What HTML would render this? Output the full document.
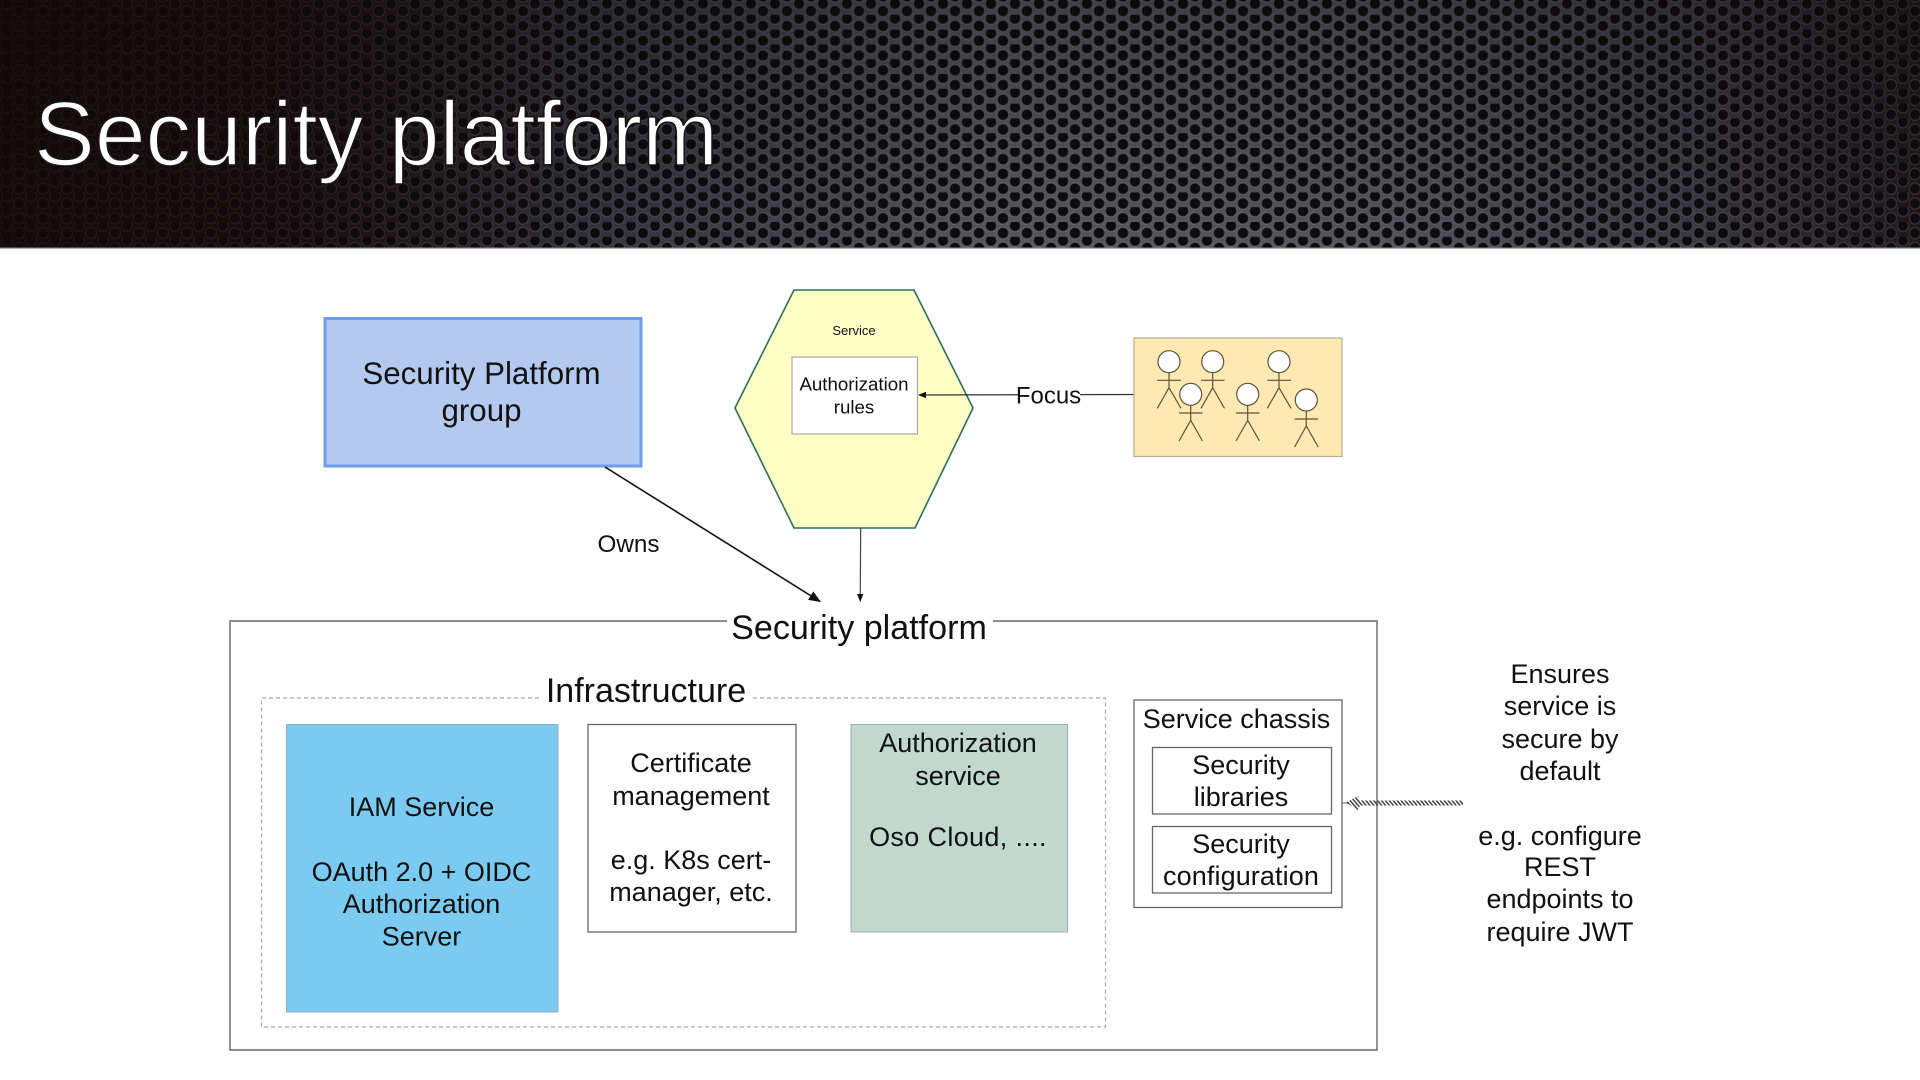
<!DOCTYPE html>
<html lang="en"><head><meta charset="utf-8"><title>Security platform</title>
<style>
html,body{margin:0;padding:0;background:#fff;width:1920px;height:1080px;overflow:hidden}
svg{display:block}
text{font-family:"Liberation Sans",sans-serif;fill:#111;text-anchor:middle}
</style></head><body>
<svg width="1920" height="1080" viewBox="0 0 1920 1080" xmlns="http://www.w3.org/2000/svg">
<defs>
<linearGradient id="mesh" x1="0" x2="1" y1="0" y2="0">
<stop offset="0" stop-color="#150a0a"/><stop offset=".15" stop-color="#1a1012"/><stop offset=".33" stop-color="#33353e"/><stop offset=".52" stop-color="#56575c"/><stop offset=".72" stop-color="#52535a"/><stop offset=".88" stop-color="#3a3942"/><stop offset="1" stop-color="#1e1519"/>
</linearGradient>
<linearGradient id="vdim" x1="0" x2="0" y1="0" y2="1">
<stop offset="0" stop-color="#0c0808" stop-opacity=".3"/><stop offset="1" stop-color="#0c0808" stop-opacity="0"/>
</linearGradient>
<linearGradient id="ldim" x1="0" x2="1" y1="0" y2="0">
<stop offset="0" stop-color="#130909" stop-opacity=".7"/><stop offset=".12" stop-color="#130909" stop-opacity=".5"/><stop offset=".3" stop-color="#130909" stop-opacity="0"/>
</linearGradient>
<pattern id="holes" width="24" height="14.8" patternUnits="userSpaceOnUse" x="1" y="0">
<g fill="#0d0b0e" stroke="#fff" stroke-opacity=".12" stroke-width="1.6">
<circle cx="6" cy="3.7" r="5.6"/><circle cx="18" cy="11.1" r="5.6"/>
<circle cx="18" cy="-3.7" r="5.6"/>
</g>
</pattern>
<pattern id="hatch" width="3" height="3" patternUnits="userSpaceOnUse" patternTransform="rotate(-40)">
<rect width="1.4" height="3" fill="#333"/>
</pattern>
<marker id="ah" markerWidth="12" markerHeight="10" refX="11" refY="5" orient="auto" markerUnits="userSpaceOnUse"><path d="M0 0L12 5L0 10z" fill="#111"/></marker>
<marker id="as" markerWidth="8" markerHeight="8" refX="7" refY="4" orient="auto" markerUnits="userSpaceOnUse"><path d="M0 .8L8 4L0 7.2z" fill="#111"/></marker>
</defs>

<!-- Header -->
<rect x="0" y="0" width="1920" height="248" fill="url(#mesh)"/>
<rect x="0" y="0" width="1920" height="248" fill="url(#holes)"/>
<rect x="0" y="0" width="1920" height="248" fill="url(#vdim)"/>
<rect x="0" y="0" width="1920" height="248" fill="url(#ldim)"/>
<rect x="0" y="247.5" width="1920" height="1.2" fill="#8a8a8a"/>
<text x="34" y="165" font-size="91.2" style="text-anchor:start;fill:#fff;stroke:#1a1416;stroke-width:1.6px">Security platform</text>

<!-- Security Platform group -->
<rect x="325" y="318.5" width="316" height="147.5" fill="#b4c9ef" stroke="#6d9eeb" stroke-width="3"/>
<text x="481.5" y="384" font-size="31.3">Security Platform</text>
<text x="481.5" y="421" font-size="31.3">group</text>

<!-- Hexagon -->
<polygon points="794,290 914,290 973,408 915,528 794,528 735,408" fill="#ffffc6" stroke="#2c6e5c" stroke-width="1.6"/>
<text x="854" y="335" font-size="13">Service</text>
<rect x="792" y="357" width="125.5" height="77" fill="#fff" stroke="#a9a9a0" stroke-width="1.2"/>
<text x="854" y="390.5" font-size="18.7">Authorization</text>
<text x="854" y="413.5" font-size="18.7">rules</text>

<!-- Connectors -->
<line x1="605" y1="467" x2="820" y2="601.5" stroke="#111" stroke-width="1.6" marker-end="url(#ah)"/>
<line x1="860.7" y1="528" x2="860.2" y2="601" stroke="#444" stroke-width="1.2" marker-end="url(#as)"/>
<text x="628.5" y="552" font-size="24.3">Owns</text>

<!-- Focus -->
<line x1="1134" y1="394.5" x2="919" y2="395" stroke="#333" stroke-width="1.2" marker-end="url(#as)"/>
<rect x="1018" y="380" width="62" height="30" fill="#fff"/>
<text x="1048.5" y="403.5" font-size="24">Focus</text>

<!-- Team -->
<rect x="1134" y="338" width="208" height="118.5" fill="#fde9b1" stroke="#b5ae93" stroke-width="1.2"/>
<g stroke="#5f5238" stroke-width="1.2" fill="none">
<path d="M1169 372.7V387.7M1157.3 380.3H1181M1157.3 408.3L1169 387.7L1181 408.3"/>
<path d="M1212.7 372.7V387.7M1201 380.3H1224.5M1201 408.3L1212.7 387.7L1224.5 408.3"/>
<path d="M1279 372.7V387.7M1267.3 380.3H1291M1267.3 408.3L1279 387.7L1291 408.3"/>
<path d="M1190.7 405.3V420.3M1179 413H1202.5M1179 441L1190.7 420.3L1202.5 441"/>
<path d="M1247.7 405.3V420.3M1236 413H1259.5M1236 441L1247.7 420.3L1259.5 441"/>
<path d="M1306.3 411V426M1294.6 419H1318.2M1294.6 447L1306.3 426L1318.2 447"/>
<g fill="#fff">
<circle cx="1169" cy="361.7" r="11"/><circle cx="1212.7" cy="361.7" r="11"/><circle cx="1279" cy="361.7" r="11"/>
<circle cx="1190.7" cy="394.3" r="11"/><circle cx="1247.7" cy="394.3" r="11"/><circle cx="1306.3" cy="400" r="11"/>
</g>
</g>

<!-- Security platform container -->
<path d="M727 621H230V1050H1377V621H993" fill="none" stroke="#666" stroke-width="1.4"/>
<text x="859" y="639" font-size="34.1">Security platform</text>

<!-- Infrastructure -->
<path d="M539 698H261.5V1027H1105.5V698H753" fill="none" stroke="#aaa" stroke-width="1.2" stroke-dasharray="4 3"/>
<text x="646" y="702" font-size="34">Infrastructure</text>

<!-- IAM -->
<rect x="286.5" y="724.5" width="271.5" height="287.5" fill="#7bcaf1" stroke="#8fb0c4" stroke-width="1"/>
<text x="421.5" y="816" font-size="27">IAM Service</text>
<text x="421.5" y="881" font-size="27">OAuth 2.0 + OIDC</text>
<text x="421.5" y="913" font-size="27">Authorization</text>
<text x="421.5" y="945.5" font-size="27">Server</text>

<!-- Certificate -->
<rect x="588" y="724.5" width="208" height="207.5" fill="#fff" stroke="#666" stroke-width="1.3"/>
<text x="691" y="772" font-size="27">Certificate</text>
<text x="691" y="805" font-size="27">management</text>
<text x="691" y="869" font-size="27">e.g. K8s cert-</text>
<text x="691" y="901" font-size="27">manager, etc.</text>

<!-- Authorization service -->
<rect x="851" y="724.5" width="216.5" height="207.5" fill="#c0d8cd" stroke="#9db0a8" stroke-width="1"/>
<text x="958" y="752" font-size="27">Authorization</text>
<text x="958" y="785" font-size="27">service</text>
<text x="958" y="846" font-size="27" letter-spacing=".35">Oso Cloud, ....</text>

<!-- Service chassis -->
<rect x="1134" y="700" width="208" height="207.5" fill="#fff" stroke="#666" stroke-width="1.3"/>
<text x="1236.5" y="728" font-size="27">Service chassis</text>
<rect x="1152.5" y="747.5" width="179" height="66.5" fill="#fff" stroke="#666" stroke-width="1.3"/>
<text x="1241" y="774" font-size="27">Security</text>
<text x="1241" y="806" font-size="27">libraries</text>
<rect x="1152.5" y="826.5" width="179" height="66.5" fill="#fff" stroke="#666" stroke-width="1.3"/>
<text x="1241" y="853" font-size="27">Security</text>
<text x="1241" y="885" font-size="27" letter-spacing=".1">configuration</text>

<!-- Hatched arrow -->
<line x1="1342.5" y1="803" x2="1348" y2="803" stroke="#555" stroke-width="1"/>
<polygon points="1346,802.5 1358,796 1360,800.5 1463,800.5 1463,805.5 1360,805.5 1358,810" fill="url(#hatch)"/>

<!-- Side note -->
<text x="1560" y="683" font-size="27">Ensures</text>
<text x="1560" y="715" font-size="27">service is</text>
<text x="1560" y="748" font-size="27">secure by</text>
<text x="1560" y="780" font-size="27">default</text>
<text x="1560" y="845" font-size="27">e.g. configure</text>
<text x="1560" y="876" font-size="27">REST</text>
<text x="1560" y="908" font-size="27">endpoints to</text>
<text x="1560" y="941" font-size="27">require JWT</text>
</svg>
</body></html>
